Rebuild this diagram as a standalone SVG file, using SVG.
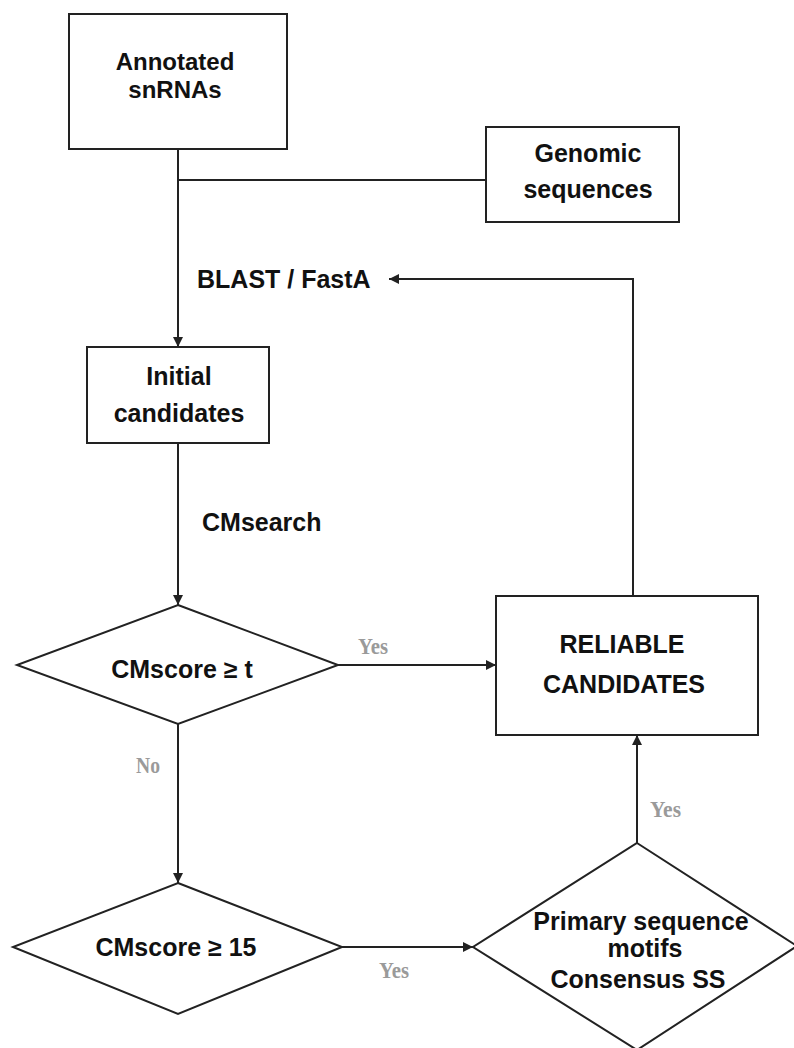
<svg xmlns="http://www.w3.org/2000/svg" width="794" height="1048" viewBox="0 0 794 1048">
<style>
.box{fill:#fff;stroke:#222;stroke-width:2}
.ln{fill:none;stroke:#222;stroke-width:2}
.t{font-family:"Liberation Sans",Arial,sans-serif;font-weight:bold;font-size:25px;fill:#111;text-anchor:middle}
.tl{font-family:"Liberation Sans",Arial,sans-serif;font-weight:bold;font-size:25px;fill:#111}
.yn{font-family:"Liberation Serif","Times New Roman",serif;font-weight:bold;font-size:24px;fill:#9a9a9a}
</style>
<defs>
<marker id="arr" markerUnits="userSpaceOnUse" markerWidth="12" markerHeight="12" refX="10" refY="5" orient="auto">
<path d="M0,0 L10,5 L0,10 Z" fill="#222"/>
</marker>
</defs>
<rect width="794" height="1048" fill="#fff"/>
<g id="connectors">
<path class="ln" d="M178,149 V347" marker-end="url(#arr)"/>
<path class="ln" d="M178,180 H486"/>
<path class="ln" d="M178,443 V605" marker-end="url(#arr)"/>
<path class="ln" d="M338,665 H496" marker-end="url(#arr)"/>
<path class="ln" d="M178,724 V883" marker-end="url(#arr)"/>
<path class="ln" d="M342,947 H473" marker-end="url(#arr)"/>
<path class="ln" d="M637,843 V735" marker-end="url(#arr)"/>
<path class="ln" d="M633,596 V279 H389" marker-end="url(#arr)"/>
<text class="tl" x="197" y="288">BLAST / FastA</text>
<text class="tl" x="202" y="531">CMsearch</text>
<text class="yn" x="358" y="654" textLength="30" lengthAdjust="spacingAndGlyphs">Yes</text>
<text class="yn" x="136" y="773" textLength="24" lengthAdjust="spacingAndGlyphs">No</text>
<text class="yn" x="650" y="817" textLength="31" lengthAdjust="spacingAndGlyphs">Yes</text>
<text class="yn" x="379" y="978" textLength="30" lengthAdjust="spacingAndGlyphs">Yes</text>
</g>
<g id="annotated">
<rect class="box" x="69" y="14" width="218" height="135"/>
<text class="t" x="175" y="70" style="font-size:24px">Annotated</text>
<text class="t" x="175" y="98" style="font-size:24px">snRNAs</text>
</g>
<g id="genomic">
<rect class="box" x="486" y="127" width="193" height="95"/>
<text class="t" x="588" y="162">Genomic</text>
<text class="t" x="588" y="198">sequences</text>
</g>
<g id="initial">
<rect class="box" x="87" y="347" width="182" height="96"/>
<text class="t" x="179" y="385">Initial</text>
<text class="t" x="179" y="422">candidates</text>
</g>
<g id="cmscore-t">
<polygon class="box" points="178,605 338,665 178,724 17,665"/>
<text class="t" x="182" y="678">CMscore ≥ t</text>
</g>
<g id="reliable">
<rect class="box" x="496" y="596" width="262" height="139"/>
<text class="t" x="622" y="653">RELIABLE</text>
<text class="t" x="624" y="693">CANDIDATES</text>
</g>
<g id="cmscore-15">
<polygon class="box" points="178,883 342,947 178,1014 13,947"/>
<text class="t" x="176" y="956">CMscore ≥ 15</text>
</g>
<g id="primary">
<polygon class="box" points="637,843 797,946 637,1050 473,947"/>
<text class="t" x="641" y="930">Primary sequence</text>
<text class="t" x="645" y="957">motifs</text>
<text class="t" x="638" y="988">Consensus SS</text>
</g>
</svg>
